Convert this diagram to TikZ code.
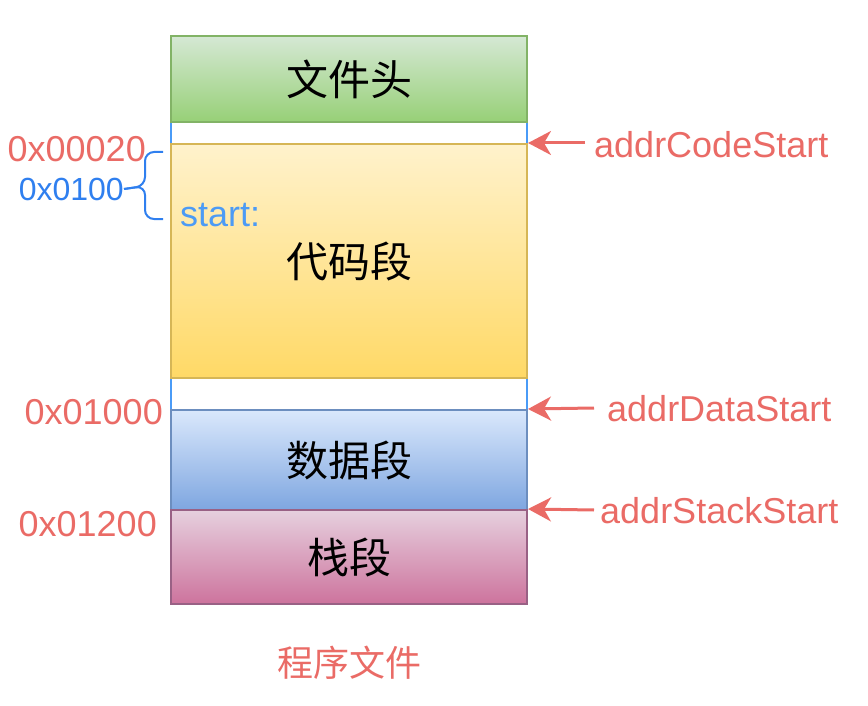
\documentclass[tikz,border=0pt]{standalone}
\usepackage{fontspec}
\setmainfont{Liberation Sans}
\newfontfamily\cjk{Noto Sans CJK SC}
\usetikzlibrary{arrows.meta}
\definecolor{addrred}{HTML}{EA6B66}
\definecolor{offblue}{HTML}{2F7FEF}
\definecolor{startblue}{HTML}{4C9BF5}
\definecolor{gapblue}{HTML}{4A9BF7}
\newcommand{\bigtxt}{\fontsize{36}{40}\selectfont}
\newcommand{\segtxt}{\fontsize{42}{46}\selectfont\cjk}
\begin{document}
\begin{tikzpicture}[x=1pt,y=-1pt]
        \tikzstyle{seg} = [line width=2pt, minimum width=356pt, inner sep=0pt, font=\segtxt, text=black]
        \tikzstyle{gap} = [draw=gapblue, line width=2pt, fill=white, minimum width=356pt, inner sep=0pt]
        \tikzstyle{addr} = [text=addrred, font=\bigtxt, inner sep=0pt]
        \tikzstyle{ptr} = [draw=addrred, line width=3pt, -{Stealth[length=23pt,width=24pt,inset=7pt]}]
        \useasboundingbox (0,0) rectangle (868,706);

        \node[gap, minimum height=22pt] (gap1) at (349,133) {};
        \node[gap, minimum height=32pt] (gap2) at (349,394) {};
        \node[seg, draw={rgb,255:red,130;green,179;blue,102}, top color={rgb,255:red,213;green,232;blue,212}, bottom color={rgb,255:red,151;green,208;blue,119}, minimum height=86pt] (head) at (349,79) {文件头};
        \node[seg, draw={rgb,255:red,214;green,182;blue,86}, top color={rgb,255:red,255;green,242;blue,204}, bottom color={rgb,255:red,255;green,217;blue,102}, minimum height=234pt] (code) at (349,261) {代码段};
        \node[seg, draw={rgb,255:red,108;green,142;blue,191}, top color={rgb,255:red,218;green,232;blue,252}, bottom color={rgb,255:red,126;green,166;blue,224}, minimum height=100pt] (data) at (349,460) {数据段};
        \node[seg, draw={rgb,255:red,153;green,97;blue,133}, top color={rgb,255:red,230;green,208;blue,222}, bottom color={rgb,255:red,205;green,115;blue,157}, minimum height=94pt] (stack) at (349,557) {栈段};

        \node[font=\bigtxt, text=startblue, inner sep=0pt, anchor=west] (start) at (180,215) {start:};

        \node[addr, anchor=east] (a020) at (146,149) {0x00020};
        \node[text=offblue, font=\fontsize{32}{36}\selectfont, inner sep=0pt, anchor=east] (a100) at (124,189) {0x0100};
        \node[addr, anchor=east] (a1000) at (163,412) {0x01000};
        \node[addr, anchor=east] (a1200) at (157,524) {0x01200};

        \coordinate (brtop) at (163,152);
        \coordinate (brbot) at (163,219);
        \draw[offblue, line width=2pt, rounded corners=9pt] (brtop) -- (145,152) -- (145,186) -- (a100.east);
        \draw[offblue, line width=2pt, rounded corners=9pt] (brbot) -- (145,219) -- (145,186) -- (a100.east);

        \node[addr, anchor=west] (lcode) at (594,145) {addrCodeStart};
        \node[addr, anchor=west] (ldata) at (607,409) {addrDataStart};
        \node[addr, anchor=west] (lstack) at (600,511) {addrStackStart};
        \coordinate (pcode) at (585,143);
        \coordinate (pdata) at (594,408);
        \coordinate (pstack) at (594,510);
        \draw[ptr] (pcode) -- (code.north east);
        \draw[ptr] (pdata) -- (data.north east);
        \draw[ptr] (pstack) -- (stack.north east);

        \node[text=addrred, font=\fontsize{36}{40}\selectfont\cjk, inner sep=0pt] (file) at (349,663) {程序文件};
\end{tikzpicture}
\end{document}
